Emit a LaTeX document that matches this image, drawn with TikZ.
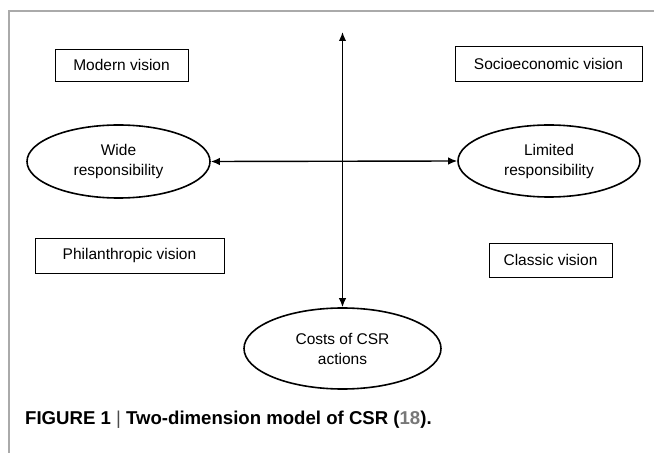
\documentclass[tikz,border=0pt]{standalone}
\usepackage{fontspec}
\setmainfont{Liberation Sans}
\usetikzlibrary{shapes.geometric,arrows.meta}
\definecolor{framegray}{RGB}{170,170,170}
\definecolor{refgray}{RGB}{120,120,120}
\begin{document}
\begin{tikzpicture}[x=1pt,y=1pt,
		visionbox/.style={draw, line width=0.8pt, inner sep=0pt, font=\fontsize{15.5}{19}\selectfont},
		respell/.style={draw, ellipse, line width=1.6pt, inner sep=0pt, align=center, font=\fontsize{15.5}{20}\selectfont},
		axis/.style={line width=1.4pt, {Latex[length=9pt,width=7.5pt]}-{Latex[length=9pt,width=7.5pt]}}]
		\useasboundingbox (0,0) rectangle (654,453);

		% Figure frame
		\draw[framegray, line width=1.5pt] (654,442) -- (9,442) -- (9,0);

		% Quadrant labels
		\node[visionbox, minimum width=133pt, minimum height=32pt] (modern) at (121.5,388) {Modern vision};
		\node[visionbox, minimum width=187pt, minimum height=35pt] (socio) at (548.5,389.5) {Socioeconomic vision};
		\node[visionbox, minimum width=189pt, minimum height=35pt] (phil) at (129.5,197.5) {Philanthropic vision};
		\node[visionbox, minimum width=123pt, minimum height=34pt] (classic) at (550.5,193) {Classic vision};

		% Ends of the two dimensions
		\node[respell, minimum width=183pt, minimum height=73pt] (wide) at (118.5,291.5) {Wide\\responsibility};
		\node[respell, minimum width=182pt, minimum height=72pt] (limited) at (549,292) {Limited\\responsibility};
		\node[respell, minimum width=197pt, minimum height=81pt] (costs) at (342.5,104.5) {Costs of CSR\\actions};
		\coordinate (top) at (342.5,421);

		% Axes
		\draw[axis] (top) -- (costs.north);
		\draw[axis] (wide.east) -- (limited.west);

		\node[anchor=base west, inner sep=0pt, font=\fontsize{18.6}{22}\selectfont\bfseries] (caption) at (25,28)
			{FIGURE 1 {\mdseries\color{black!70}|} Two-dimension model of CSR ({\color{refgray}18}).};
	\end{tikzpicture}
\end{document}
